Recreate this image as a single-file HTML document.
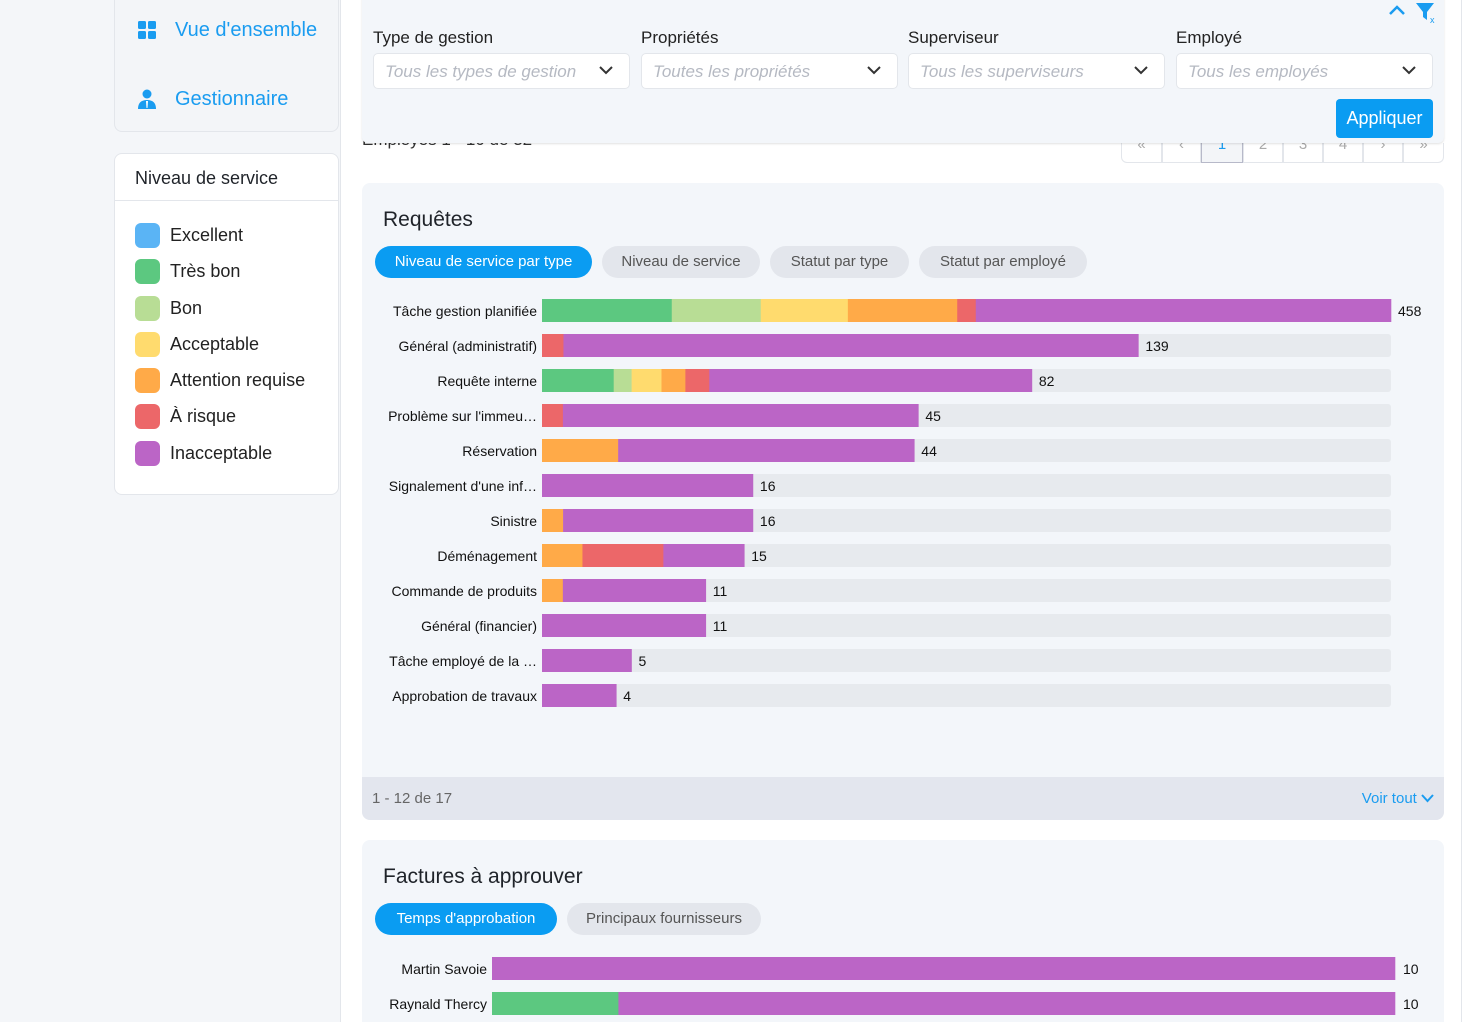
<!DOCTYPE html>
<html><head><meta charset="utf-8">
<style>
*{box-sizing:border-box;margin:0;padding:0}
html{width:1466px;height:1022px;overflow:hidden}
body{width:1466px;height:1022px;overflow:hidden;background:#fff;font-family:"Liberation Sans",sans-serif;position:relative;color:#1f2329}
.abs{position:absolute}
#left{left:0;top:0;width:341px;height:1022px;background:#f4f6f9;border-right:1px solid #e3e6eb}
.nav{left:114px;top:-10px;width:225px;height:142px;background:#f3f5f8;border:1px solid #e3e6eb;border-radius:8px}
.navitem{position:absolute;left:60px;font-size:20px;color:#1a9cf0}
.legend{left:114px;top:153px;width:225px;height:342px;background:#fff;border:1px solid #e3e6eb;border-radius:8px}
.lg{position:absolute;left:20px;font-size:18px;color:#222;height:24px;line-height:24px;padding-left:35px}
.lg i{position:absolute;left:0;top:0;width:25px;height:25px;border-radius:6px}
.card{background:#f3f6fa;border-radius:8px}
.lab{font-size:17px;color:#222}
.sel{position:absolute;top:53px;width:257px;height:36px;background:#fff;border:1px solid #e3e6eb;border-radius:5px;font-size:17px;font-style:italic;color:#b5b9c2;padding:8px 11px}
.sel svg{position:absolute;right:16px;top:12px}
.tab{position:absolute;height:32px;border-radius:16px;font-size:15px;line-height:32px;text-align:center;background:#e3e6ec;color:#555}
.tab.on{background:#0a9cf2;color:#fff}
.pg{position:absolute;top:143px;height:20px;border:1px solid #e3e6eb;border-top:none;background:#fff;font-size:15px;color:#aaa;text-align:center;line-height:4px;overflow:hidden}
</style></head><body>
<div id="left" class="abs"></div>
<div class="abs nav">
  <svg class="abs" style="left:23px;top:30px" width="18" height="18"><rect x="0" y="0" width="8" height="8" rx="1.5" fill="#1a9cf0"/><rect x="10" y="0" width="8" height="8" rx="1.5" fill="#1a9cf0"/><rect x="0" y="10" width="8" height="8" rx="1.5" fill="#1a9cf0"/><rect x="10" y="10" width="8" height="8" rx="1.5" fill="#1a9cf0"/></svg>
  <div class="navitem" style="top:28px">Vue d'ensemble</div>
  <svg class="abs" style="left:23px;top:98px" width="18" height="20"><circle cx="9" cy="5" r="4.5" fill="#1a9cf0"/><path d="M0 20 Q0 11 9 11 Q18 11 18 20Z" fill="#1a9cf0"/><path d="M8 12 L10 12 L9.5 19 L8.5 19Z" fill="#fff"/></svg>
  <div class="navitem" style="top:97px">Gestionnaire</div>
</div>
<div class="abs legend">
  <div style="position:absolute;left:20px;top:14px;font-size:18px">Niveau de service</div>
  <div style="position:absolute;left:0;right:0;top:46px;border-top:1px solid #e3e6eb"></div>
  <div class="lg" style="top:69px"><i style="background:#5ab4f5"></i>Excellent</div>
  <div class="lg" style="top:105px"><i style="background:#5cc880"></i>Très bon</div>
  <div class="lg" style="top:142px"><i style="background:#b8dd95"></i>Bon</div>
  <div class="lg" style="top:178px"><i style="background:#ffdb6e"></i>Acceptable</div>
  <div class="lg" style="top:214px"><i style="background:#ffaa48"></i>Attention requise</div>
  <div class="lg" style="top:250px"><i style="background:#ec6769"></i>À risque</div>
  <div class="lg" style="top:287px"><i style="background:#bb65c6"></i>Inacceptable</div>
</div>
<div class="abs" style="left:1461px;top:0;width:1px;height:1022px;background:#e3e6eb"></div>

<div class="abs" style="left:362px;top:130px;font-size:17px;color:#333">Employés 1 - 10 de 32</div>
<div class="pg" style="left:1121px;width:41px;border-radius:0 0 0 6px">«</div>
<div class="pg" style="left:1162px;width:39px">‹</div>
<div class="pg" style="left:1201px;width:42px;background:#f3f5f8;border-color:#b7b9c9;color:#1a9cf0">1</div>
<div class="pg" style="left:1243px;width:40px">2</div>
<div class="pg" style="left:1283px;width:40px">3</div>
<div class="pg" style="left:1323px;width:40px">4</div>
<div class="pg" style="left:1363px;width:40px">›</div>
<div class="pg" style="left:1403px;width:41px;border-radius:0 0 6px 0">»</div>

<div class="abs card" style="left:362px;top:-8px;width:1082px;height:151px;border-radius:0 0 6px 6px;box-shadow:0 1px 2px rgba(0,0,0,0.12)">
  <svg class="abs" style="left:1026px;top:12px" width="18" height="12"><path d="M2 10 L9 3 L16 10" stroke="#1a9cf0" stroke-width="2.5" fill="none"/></svg>
  <svg class="abs" style="left:1053px;top:10px" width="22" height="22"><path d="M1 1 H19 L12 10 V18 L8 15 V10Z" fill="#1a9cf0"/><text x="15" y="21" font-size="9" fill="#1a9cf0" font-family="Liberation Sans">x</text></svg>
  <div class="abs lab" style="left:11px;top:36px">Type de gestion</div>
  <div class="abs lab" style="left:279px;top:36px">Propriétés</div>
  <div class="abs lab" style="left:546px;top:36px">Superviseur</div>
  <div class="abs lab" style="left:814px;top:36px">Employé</div>
  <div class="sel" style="left:11px;top:61px">Tous les types de gestion<svg width="14" height="9"><path d="M1 1 L7 7 L13 1" stroke="#333" stroke-width="2" fill="none"/></svg></div>
  <div class="sel" style="left:279px;top:61px">Toutes les propriétés<svg width="14" height="9"><path d="M1 1 L7 7 L13 1" stroke="#333" stroke-width="2" fill="none"/></svg></div>
  <div class="sel" style="left:546px;top:61px">Tous les superviseurs<svg width="14" height="9"><path d="M1 1 L7 7 L13 1" stroke="#333" stroke-width="2" fill="none"/></svg></div>
  <div class="sel" style="left:814px;top:61px">Tous les employés<svg width="14" height="9"><path d="M1 1 L7 7 L13 1" stroke="#333" stroke-width="2" fill="none"/></svg></div>
  <div class="abs" style="left:974px;top:107px;width:97px;height:39px;background:#0a9cf2;border-radius:4px;color:#fff;font-size:18px;text-align:center;line-height:39px">Appliquer</div>
</div>

<div class="abs card" style="left:362px;top:183px;width:1082px;height:637px;overflow:hidden">
  <div class="abs" style="left:21px;top:25px;font-size:21px">Requêtes</div>
  <div class="tab on" style="left:13px;top:63px;width:217px">Niveau de service par type</div>
  <div class="tab" style="left:240px;top:63px;width:158px">Niveau de service</div>
  <div class="tab" style="left:408px;top:63px;width:139px">Statut par type</div>
  <div class="tab" style="left:557px;top:63px;width:168px">Statut par employé</div>
  <div class="abs" style="left:0;top:594px;width:1082px;height:43px;background:#e3e6ee">
    <div class="abs" style="left:10px;top:13px;font-size:15px;color:#666">1 - 12 de 17</div>
    <div class="abs" style="right:10px;top:13px;font-size:15px;color:#1a9cf0">Voir tout <svg width="13" height="9"><path d="M1 1 L6.5 7 L12 1" stroke="#1a9cf0" stroke-width="2" fill="none"/></svg></div>
  </div>
</div>
<svg id="chart1" class="abs" style="left:362px;top:290px" width="1082" height="430"></svg>

<div class="abs card" style="left:362px;top:840px;width:1082px;height:182px;border-radius:8px 8px 0 0">
  <div class="abs" style="left:21px;top:25px;font-size:21px">Factures à approuver</div>
  <div class="tab on" style="left:13px;top:63px;width:182px">Temps d'approbation</div>
  <div class="tab" style="left:205px;top:63px;width:194px">Principaux fournisseurs</div>
</div>
<svg id="chart2" class="abs" style="left:362px;top:950px" width="1082" height="72"></svg>

<script>
const colors = ["#5ab4f5","#5cc880","#b8dd95","#ffdb6e","#ffaa48","#ec6769","#bb65c6"];
const categories = ["Tâche gestion planifiée","Général (administratif)","Requête interne","Problème sur l'immeu…","Réservation","Signalement d'une inf…","Sinistre","Déménagement","Commande de produits","Général (financier)","Tâche employé de la …","Approbation de travaux"];
const totals = [458,139,82,45,44,16,16,15,11,11,5,4];
const excellent   = [0,0,0,0,0,0,0,0,0,0,0,0];
const tresBon     = [70,0,12,0,0,0,0,0,0,0,0,0];
const bon         = [48,0,3,0,0,0,0,0,0,0,0,0];
const acceptable  = [47,0,5,0,0,0,0,0,0,0,0,0];
const attention   = [59,0,4,0,9,0,1.6,3,1.4,0,0,0];
const risque      = [10,5,4,2.5,0,0,0,6,0,0,0,0];
const inacceptable= [224,134,54,42.5,35,16,14.4,6,9.6,11,5,4];

const invNames = ["Martin Savoie","Raynald Thercy"];
const invTotals = [10,10];
const invTresBon = [0,1.4];
const invInacceptable = [10,8.6];

const NS="http://www.w3.org/2000/svg";
function mk(svg,tag,attrs){const e=document.createElementNS(NS,tag);for(const k in attrs)e.setAttribute(k,attrs[k]);svg.appendChild(e);return e;}

(function(){
  const svg=document.getElementById('chart1');
  const x0=180, W=849, rowH=35, barH=23, y0=9;
  const maxV=Math.max(...totals), c=10;
  const scale=v=>W*Math.log(1+v/c)/Math.log(1+maxV/c);
  const series=[excellent,tresBon,bon,acceptable,attention,risque,inacceptable];
  categories.forEach((cat,i)=>{
    const y=y0+i*rowH;
    const bg=mk(svg,'rect',{x:x0,y:y,width:W,height:barH,rx:3,fill:'#e7eaee'});
    
    
    const tw=scale(totals[i]);
    const sum=series.reduce((s,a)=>s+a[i],0);
    let cx=x0;
    series.forEach((arr,k)=>{
      if(!arr[i])return;
      const w=tw*arr[i]/sum;
      const r=mk(svg,'rect',{x:cx,y:y,width:w+0.3,height:barH,fill:colors[k]});
      
      
      cx+=w;
    });
    const lab=mk(svg,'text',{x:x0-5,y:y+17,'text-anchor':'end','font-size':14,fill:'#111','font-family':'Liberation Sans'});
    lab.textContent=cat;
    
    
    const val=mk(svg,'text',{x:x0+tw+7,y:y+17,'font-size':14,fill:'#111','font-family':'Liberation Sans'});
    val.textContent=totals[i];
    
    
  });
})();

(function(){
  const svg=document.getElementById('chart2');
  const x0=130, W=903, rowH=35, barH=23, y0=7;
  const maxV=Math.max(...invTotals);
  const scale=v=>W*v/maxV;
  invNames.forEach((n,i)=>{
    const y=y0+i*rowH;
    let cx=x0;
    [[invTresBon,colors[1]],[invInacceptable,colors[6]]].forEach(([arr,col])=>{
      if(!arr[i])return;
      const w=scale(arr[i]);
      const r=mk(svg,'rect',{x:cx,y:y,width:w+0.3,height:barH,fill:col});
      
      
      cx+=w;
    });
    const lab=mk(svg,'text',{x:x0-5,y:y+17,'text-anchor':'end','font-size':14,fill:'#111','font-family':'Liberation Sans'});
    lab.textContent=n;
    
    
    const val=mk(svg,'text',{x:x0+scale(invTotals[i])+8,y:y+17,'font-size':14,fill:'#111','font-family':'Liberation Sans'});
    val.textContent=invTotals[i];
    
    
  });
})();
</script>
</body></html>
